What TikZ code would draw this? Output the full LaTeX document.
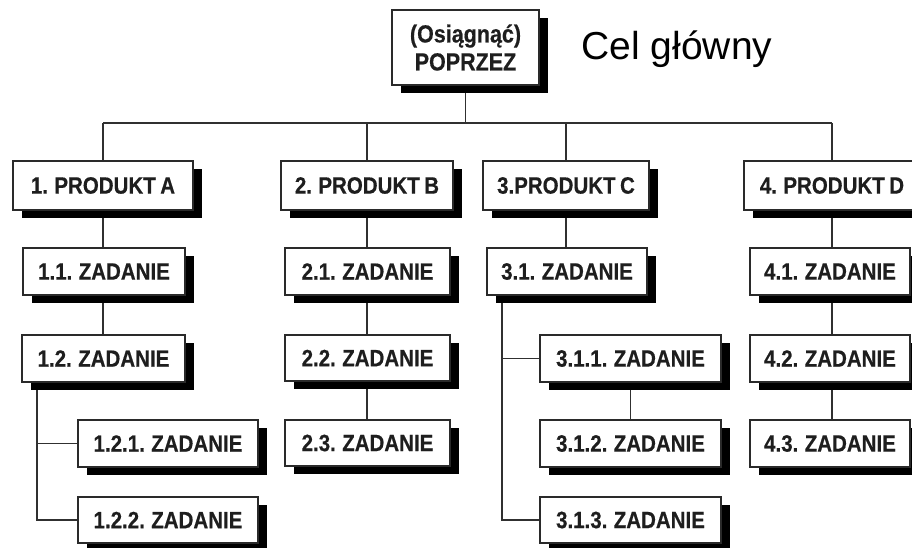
\documentclass[tikz,border=0pt]{standalone}
\usepackage{graphicx}
\usepackage{fontspec}
\setmainfont{Liberation Sans}
\newfontfamily\heavyfont{Liberation Sans Bold}[FakeBold=0.5]
\usetikzlibrary{shadows}
\pgfdeclarelayer{background}
\pgfsetlayers{background,main}
\definecolor{boxline}{HTML}{2A2A2A}
\definecolor{txt}{HTML}{1E1E1E}
\definecolor{linkcol}{HTML}{303030}
% box labels are set slightly taller than the plain font, with tighter spaces
\newcommand\tallbox[1]{\scalebox{1}[1.15]{\spaceskip=0.22em\relax #1}}
\tikzset{
  box/.style={draw=boxline, line width=1.3pt, fill=white, inner sep=0pt,
    text=txt, font=\heavyfont\fontsize{20.5}{24}\selectfont,
    minimum height=47pt,
    drop shadow={shadow xshift=9pt, shadow yshift=-8pt, fill=black, opacity=1}},
  link/.style={draw=linkcol, line width=1.4pt},
}
\begin{document}
\begin{tikzpicture}[x=1pt, y=-1pt]
\useasboundingbox (0,0) rectangle (912,548);
\clip (0,0) rectangle (912,548);

% goal at the top
\node[box, minimum width=147pt, minimum height=75pt, align=center,
      font=\heavyfont\fontsize{21.5}{28}\selectfont] (top) at (465.5,47.5)
      {\tallbox{(Osiągnąć)}\\\tallbox{POPRZEZ}};
\node[anchor=base west, text=black, font=\fontsize{39}{44}\selectfont] (goal) at (578,60) {Cel główny};

% products
\node[box, minimum width=180pt, minimum height=49pt] (A) at (103,185.5) {\tallbox{1. PRODUKT A}};
\node[box, minimum width=172pt, minimum height=49pt] (B) at (367,185.5) {\tallbox{2. PRODUKT B}};
\node[box, minimum width=166pt, minimum height=49pt] (C) at (566,185.5) {\tallbox{3.PRODUKT C}};
\node[box, minimum width=176pt, minimum height=49pt] (D) at (832,185.5) {\tallbox{4. PRODUKT D}};

% tasks of product A
\node[box, minimum width=162pt] (a11) at (104,271.5) {\tallbox{1.1. ZADANIE}};
\node[box, minimum width=163pt] (a12) at (103.5,358.5) {\tallbox{1.2. ZADANIE}};
\node[box, minimum width=180pt] (a121) at (168,443.5) {\tallbox{1.2.1. ZADANIE}};
\node[box, minimum width=180pt, minimum height=46pt] (a122) at (168,520) {\tallbox{1.2.2. ZADANIE}};

% tasks of product B
\node[box, minimum width=165pt] (b21) at (367.5,271.5) {\tallbox{2.1. ZADANIE}};
\node[box, minimum width=165pt, minimum height=46pt] (b22) at (367.5,358) {\tallbox{2.2. ZADANIE}};
\node[box, minimum width=165pt, minimum height=46pt] (b23) at (367.5,443) {\tallbox{2.3. ZADANIE}};

% tasks of product C
\node[box, minimum width=160pt] (c31) at (567,271.5) {\tallbox{3.1. ZADANIE}};
\node[box, minimum width=181pt] (c311) at (630.5,358.5) {\tallbox{3.1.1. ZADANIE}};
\node[box, minimum width=181pt] (c312) at (630.5,443.5) {\tallbox{3.1.2. ZADANIE}};
\node[box, minimum width=181pt, minimum height=46pt] (c313) at (630.5,520) {\tallbox{3.1.3. ZADANIE}};

% tasks of product D
\node[box, minimum width=160pt] (d41) at (830,271.5) {\tallbox{4.1. ZADANIE}};
\node[box, minimum width=160pt] (d42) at (830,358.5) {\tallbox{4.2. ZADANIE}};
\node[box, minimum width=160pt] (d43) at (830,443.5) {\tallbox{4.3. ZADANIE}};

% junction points of the tree
\coordinate (bus) at (0,123);
\coordinate (a12j) at (37,358.5);
\coordinate (c31j) at (502,271.5);

\begin{pgfonlayer}{background}
  \fill[white] (0,0) rectangle (912,548);
  % main bus
  \draw[link] (top) -- (top |- bus);
  \draw[link] (A |- bus) -- (D |- bus);
  \draw[link] (A |- bus) -- (A |- a12);
  \draw[link] (B |- bus) -- (B |- b23);
  \draw[link] (C |- bus) -- (C |- c31);
  \draw[link] (D |- bus) -- (D |- d43);
  % sub-branches
  \draw[link] (a12j) |- (a122);
  \draw[link] (a12j |- a121) -- (a121);
  \draw[link] (c31j) |- (c313);
  \draw[link] (c31j |- c311) -- (c311);
  \draw[link] (c311) -- (c312);
\end{pgfonlayer}
\end{tikzpicture}
\end{document}
